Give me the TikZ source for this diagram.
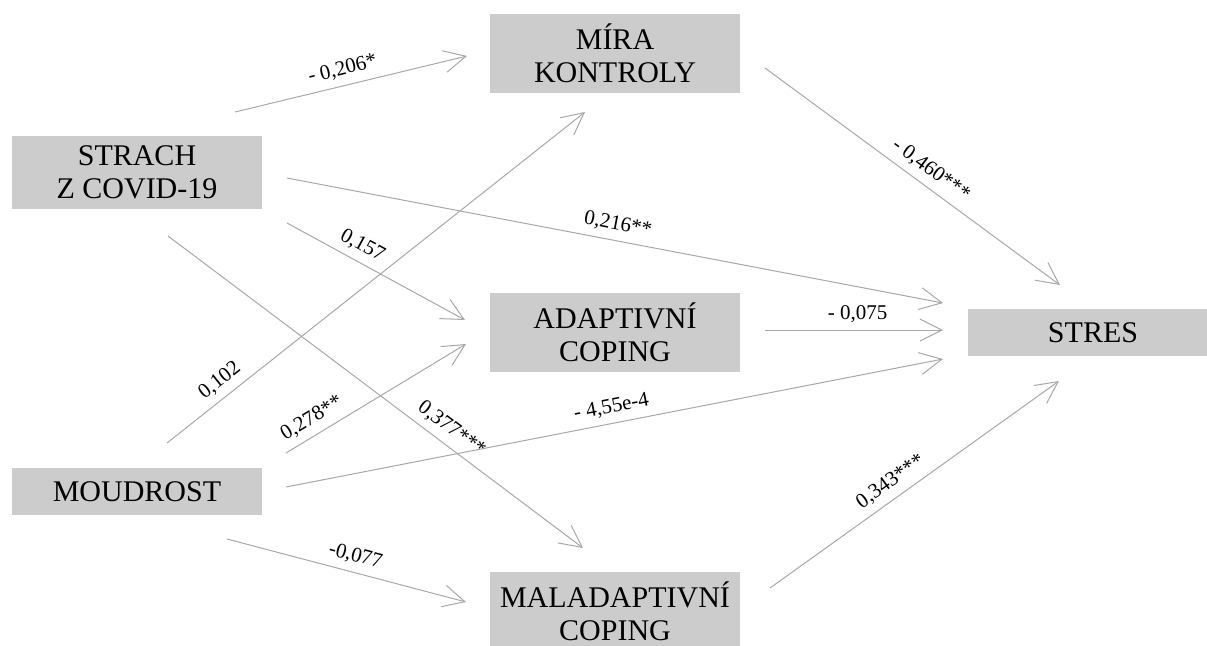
\documentclass[tikz,border=0pt]{standalone}
\usepackage{fontspec}
\setmainfont{Liberation Serif}
\usetikzlibrary{arrows.meta}
\definecolor{boxgray}{HTML}{CCCCCC}
\definecolor{linegray}{HTML}{A8A8A8}
\tikzset{
	var/.style={fill=boxgray, minimum width=125pt, inner sep=0pt, align=center, font=\fontsize{15}{16.5}\selectfont},
	effect/.style={draw=linegray, line width=0.5pt, -{Straight Barb[length=11pt,width=11pt]}},
	coef/.style={font=\fontsize{10.5}{12}\selectfont, sloped, above=1pt, inner sep=2.5pt}
}
\begin{document}
\begin{tikzpicture}[x=0.5pt,y=-0.5pt]
		\useasboundingbox (0,0) rectangle (1207,645);
		\node[var, minimum height=36.5pt] (strach) at (137,172.5) {STRACH\\Z COVID-19};
		\node[var, minimum height=23.5pt] (moudrost) at (137,491.5) {MOUDROST};
		\node[var, minimum height=39.5pt] (kontrola) at (615,53.5) {MÍRA\\KONTROLY};
		\node[var, minimum height=39.5pt] (adapt) at (615,332.5) {ADAPTIVNÍ\\COPING};
		\node[var, minimum height=39.5pt] (maladapt) at (615,611.5) {MALADAPTIVNÍ\\COPING};
		\node[var, minimum height=23.5pt] (stres) at (1093,332.5) {STRES};
		\coordinate (S1) at (235,112);
		\coordinate (S2) at (287,178);
		\coordinate (S3) at (287,223);
		\coordinate (S4) at (168,236);
		\coordinate (M1) at (167,443);
		\coordinate (M2) at (286,453);
		\coordinate (M3) at (286,487);
		\coordinate (M4) at (227,539);
		\coordinate (K0) at (765,68);
		\coordinate (A0) at (765,330);
		\coordinate (D0) at (770,588);
		\coordinate (K) at (467,56);
		\coordinate (KM) at (585,112);
		\coordinate (A) at (465,320);
		\coordinate (AM) at (466,344);
		\coordinate (D) at (583,548);
		\coordinate (DM) at (466,602);
		\coordinate (R1) at (943,303);
		\coordinate (R2) at (943,330);
		\coordinate (R3) at (943,359);
		\coordinate (RK) at (1060,285);
		\coordinate (RD) at (1059,381);
		\draw[effect] (S1) -- node[coef, pos=.48]{- 0,206*} (K);
		\draw[effect] (S2) -- node[coef, pos=.50]{0,216**} (R1);
		\draw[effect] (S3) -- node[coef, pos=.38]{0,157} (A);
		\draw[effect] (S4) -- node[coef, pos=.66]{0,377***} (D);
		\draw[effect] (M1) -- node[coef, pos=.15]{0,102} (KM);
		\draw[effect] (M2) -- node[coef, pos=.19]{0,278**} (AM);
		\draw[effect] (M3) -- node[coef, pos=.50]{- 4,55e-4} (R3);
		\draw[effect] (M4) -- node[coef, pos=.52]{-0,077} (DM);
		\draw[effect] (K0) -- node[coef, pos=.53]{- 0,460***} (RK);
		\draw[effect] (A0) -- node[coef, pos=.52]{- 0,075} (R2);
		\draw[effect] (D0) -- node[coef, pos=.45]{0,343***} (RD);
\end{tikzpicture}
\end{document}
